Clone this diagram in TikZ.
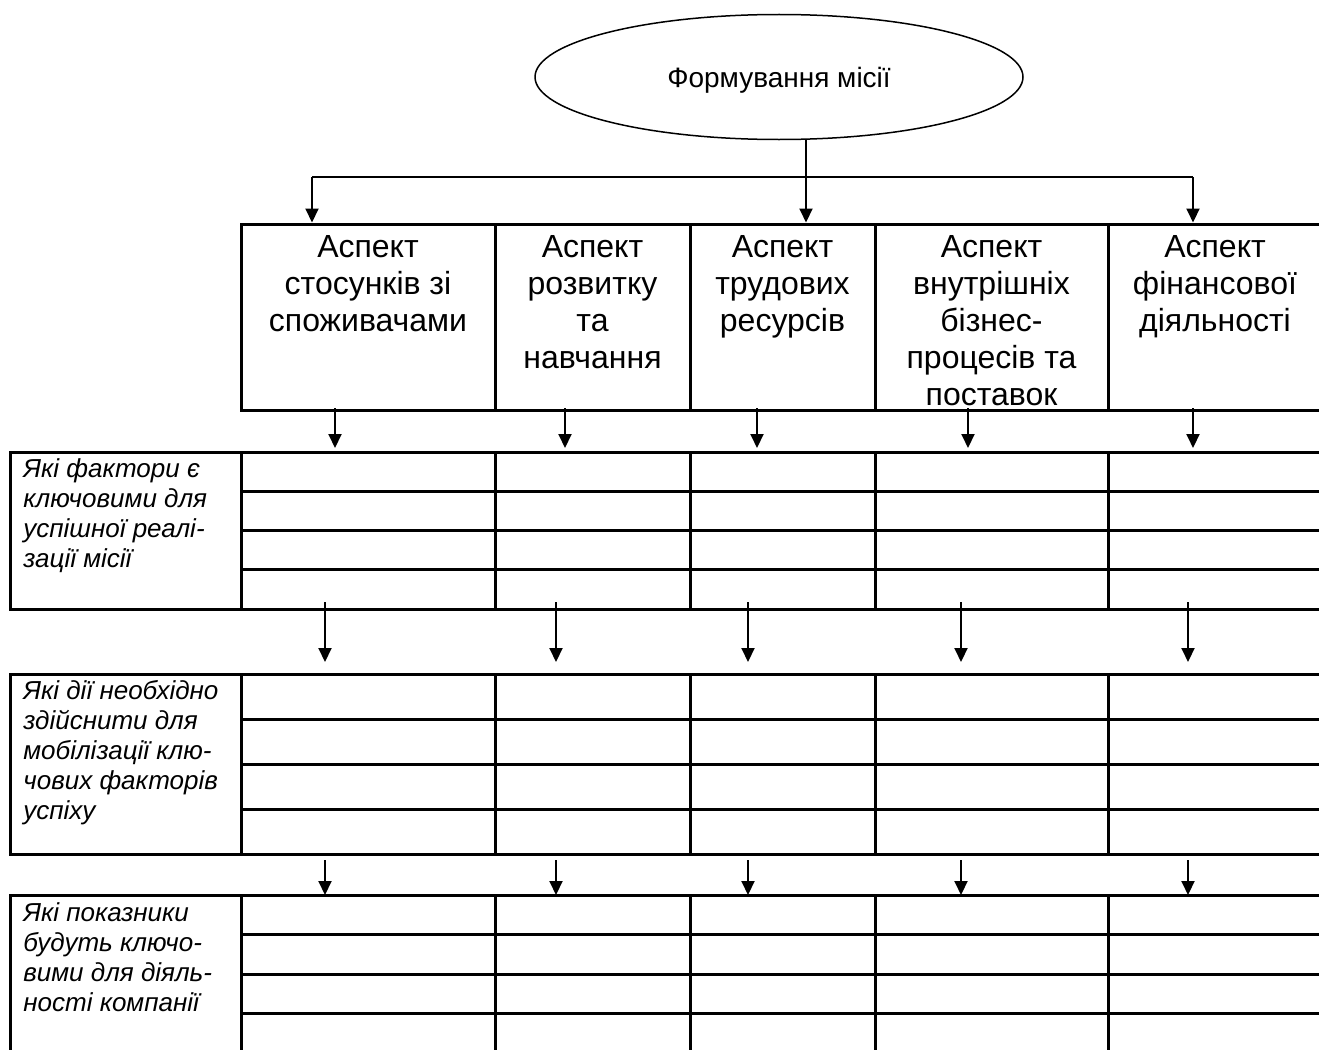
\documentclass[tikz,border=0pt]{standalone}
\usepackage{fontspec}
\setmainfont{Liberation Sans}
\usetikzlibrary{arrows.meta,shapes.geometric,backgrounds,positioning,calc}
\tikzset{every picture/.style={line width=0.75pt}}
\tikzset{
    cell/.style={draw, line width=3pt, anchor=north west, inner sep=0pt, outer sep=0pt},
    headtext/.style={font=\fontsize{32}{37}\selectfont, align=center, inner sep=0pt},
    asktext/.style={font=\itshape\fontsize{26}{30}\selectfont, align=left, inner sep=0pt},
    link/.style={line width=2pt, -{Triangle[length=14pt,width=13pt]}},
}

\begin{document}
\begin{tikzpicture}[x=1pt,y=-1pt]
    \useasboundingbox (0,0) rectangle (1319,1049);
    \node[ellipse, draw, line width=1.5pt, minimum width=488pt, minimum height=125pt,
        text depth=0pt, font=\fontsize{28}{32}\selectfont] (mission) at (779,77) {Формування місії};
    % header row
    \foreach \i/\x/\w in {1/241/254, 2/495/195, 3/690/185, 4/875/233, 5/1108/214}
        \node[cell, minimum width=\w pt, minimum height=186pt] (h\i) at (\x,224) {};
    \node[headtext, below=11.5pt of h1.north] (h1t) {Аспект\\стосунків зі\\споживачами};
    \node[headtext, below=11.5pt of h2.north] (h2t) {Аспект\\розвитку\\та\\навчання};
    \node[headtext, below=11.5pt of h3.north] (h3t) {Аспект\\трудових\\ресурсів};
    \node[headtext, below=11.5pt of h4.north] (h4t) {Аспект\\внутрішніх\\бізнес-\\процесів та\\поставок};
    \node[headtext, below=11.5pt of h5.north] (h5t) {Аспект\\фінансової\\діяльності};
    % three tables
    \foreach \t/\y/\r in {f/452/39.25, d/674/45, p/895/39.5} {
        \node[cell, minimum width=231pt, minimum height=4*\r pt] (\t0) at (10,\y) {};
        \foreach \i/\x/\w in {1/241/254, 2/495/195, 3/690/185, 4/875/233, 5/1108/214}
            \foreach \k in {1,...,4}
                \node[cell, minimum width=\w pt, minimum height=\r pt] (\t\i-\k) at (\x,{\y+(\k-1)*\r}) {};
    }
    \node[asktext, below right=6pt and 13pt of f0.north west] (f0t)
        {Які фактори є\\ключовими для\\успішної реалі-\\зації місії};
    \node[asktext, below right=6pt and 13pt of d0.north west] (d0t)
        {Які дії необхідно\\здійснити для\\мобілізації клю-\\чових факторів\\успіху};
    \node[asktext, below right=7.5pt and 13pt of p0.north west] (p0t)
        {Які показники\\будуть ключо-\\вими для діяль-\\ності компанії};
    % fork from the mission
    \coordinate (fork) at (806,177);
    \coordinate (forkl) at (312,177);
    \coordinate (forkr) at (1193,177);
    \draw[line width=2pt] (fork |- mission.south) -- (fork);
    \draw[line width=2pt] (forkl) -- (forkr);
    \draw[link, shorten >=1.5pt] (forkl) -- (forkl |- h1.north);
    \draw[link, shorten >=1.5pt] (fork) -- (fork |- h3.north);
    \draw[link, shorten >=1.5pt] (forkr) -- (forkr |- h5.north);
    % arrows between the rows
    \foreach \x [count=\i] in {335,565,757,968,1193} {
        \coordinate (top\i) at (\x,408);
        \draw[link, shorten >=4pt] (top\i) -- (top\i |- f\i-1.north);
    }
    \foreach \x [count=\i] in {325,556,748,961,1188} {
        \coordinate (mid\i) at (\x,602);
        \coordinate (low\i) at (\x,860);
        \draw[link, shorten >=12pt] (mid\i) -- (mid\i |- d\i-1.north);
        \draw[link] (low\i) -- (low\i |- p\i-1.north);
    }
\end{tikzpicture}
\end{document}
